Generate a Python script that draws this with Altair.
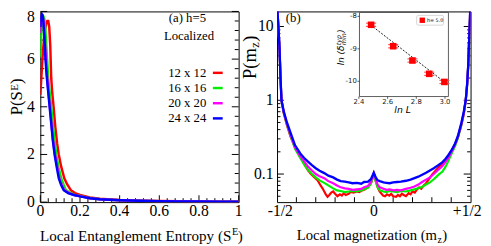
import altair as alt
import pandas as pd

# ---------------- panel (a): P(S^E), h = 5 ----------------
a_series = ["12 x 12", "16 x 16", "20 x 20", "24 x 24"]
a_colors = ["#ff0000", "#00ee00", "#ff00ff", "#0000ff"]

a12_x = [0, 0.005, 0.01, 0.015, 0.02, 0.025, 0.03, 0.035, 0.04, 0.045, 0.05, 0.055, 0.06, 0.067,
         0.075, 0.085, 0.093, 0.105, 0.121, 0.135, 0.154, 0.175, 0.2, 0.25, 0.3, 0.4, 0.5, 0.6,
         0.7, 0.8, 0.9, 1.0]
a12_y = [4.5, 5.2, 5.9, 6.5, 6.95, 7.3, 7.5, 7.6, 7.6, 7.35, 6.6, 5.2, 4.6, 4.0,
         3.2, 2.45, 2.0, 1.5, 1.0, 0.75, 0.5, 0.38, 0.3, 0.2, 0.14, 0.09, 0.06, 0.045,
         0.035, 0.028, 0.022, 0.018]

a16_x = [0, 0.004, 0.008, 0.012, 0.016, 0.02, 0.025, 0.03, 0.034, 0.04, 0.047, 0.055, 0.065,
         0.08, 0.092, 0.105, 0.118, 0.129, 0.15, 0.175, 0.2, 0.25, 0.3, 0.4, 0.5, 0.6, 0.7,
         0.8, 0.9, 1.0]
a16_y = [6.1, 6.9, 7.4, 7.7, 7.78, 7.7, 7.3, 6.6, 6.0, 5.2, 4.6, 4.0, 3.1,
         2.0, 1.45, 1.0, 0.72, 0.5, 0.4, 0.3, 0.26, 0.17, 0.12, 0.08, 0.055, 0.04, 0.032,
         0.025, 0.02, 0.016]

a20_x = [0, 0.004, 0.008, 0.012, 0.016, 0.02, 0.026, 0.032, 0.04, 0.048, 0.056, 0.064, 0.074,
         0.085, 0.096, 0.108, 0.121, 0.145, 0.17, 0.2, 0.25, 0.3, 0.4, 0.5, 0.6, 0.7, 0.8,
         0.9, 1.0]
a20_y = [7.1, 7.6, 7.82, 7.8, 7.6, 7.2, 6.3, 5.5, 4.7, 4.0, 3.3, 2.6, 2.0,
         1.5, 1.0, 0.72, 0.5, 0.38, 0.3, 0.25, 0.165, 0.12, 0.08, 0.055, 0.04, 0.031, 0.025,
         0.02, 0.016]

a24_x = [0, 0.004, 0.008, 0.012, 0.016, 0.02, 0.026, 0.032, 0.04, 0.047, 0.055, 0.063, 0.072,
         0.082, 0.093, 0.105, 0.118, 0.14, 0.17, 0.2, 0.25, 0.3, 0.4, 0.5, 0.6, 0.7, 0.8,
         0.9, 1.0]
a24_y = [7.35, 7.75, 7.88, 7.82, 7.5, 7.0, 6.0, 5.3, 4.6, 4.0, 3.3, 2.6, 2.0,
         1.5, 1.0, 0.72, 0.5, 0.38, 0.3, 0.24, 0.16, 0.12, 0.08, 0.055, 0.04, 0.03, 0.024,
         0.019, 0.015]

a_xticks = [0, 0.2, 0.4, 0.6, 0.8, 1]
a_xticklabels = ["0", "0.2", "0.4", "0.6", "0.8", "1"]
a_yticks = [0, 2, 4, 6]
a_yticklabels = ["0", "2", "4", "6"]
a_ytop = [8]
a_ytoplabel = ["8"]

# ---------------- panel (b): P(m_z) ----------------
b12_m = [-0.4995, -0.497, -0.493, -0.487, -0.482, -0.477, -0.465, -0.449, -0.43, -0.407,
         -0.39, -0.373, -0.355, -0.34, -0.325, -0.306, -0.29, -0.275, -0.265, -0.256,
         -0.248, -0.239, -0.23, -0.22, -0.21, -0.2, -0.188, -0.175, -0.165, -0.155,
         -0.145, -0.13, -0.12, -0.104, -0.09, -0.075, -0.06, -0.045, -0.036, -0.02,
         -0.01, 0, 0.01, 0.02, 0.03, 0.04, 0.048, 0.058, 0.068, 0.08,
         0.09, 0.1, 0.115, 0.125, 0.135, 0.145, 0.155, 0.166, 0.18, 0.19,
         0.2, 0.212, 0.223, 0.234, 0.245, 0.258, 0.27, 0.285, 0.301, 0.32,
         0.34, 0.368, 0.39, 0.41, 0.43, 0.45, 0.465, 0.475, 0.482, 0.488,
         0.493, 0.497, 0.4995]
b12_p = [25, 15, 10, 5, 2, 1, 0.66, 0.46, 0.32, 0.23,
         0.19, 0.16, 0.13, 0.112, 0.1, 0.09, 0.082, 0.07, 0.064, 0.058,
         0.053, 0.049, 0.052, 0.056, 0.058, 0.054, 0.05, 0.053, 0.051, 0.055,
         0.052, 0.054, 0.057, 0.056, 0.058, 0.057, 0.06, 0.062, 0.065, 0.072,
         0.08, 0.103, 0.08, 0.066, 0.058, 0.054, 0.051, 0.05, 0.053, 0.051,
         0.054, 0.05, 0.049, 0.052, 0.05, 0.054, 0.052, 0.05, 0.055, 0.053,
         0.058, 0.056, 0.062, 0.066, 0.063, 0.07, 0.075, 0.085, 0.098, 0.112,
         0.128, 0.152, 0.185, 0.225, 0.29, 0.43, 0.64, 1.0, 1.6, 3,
         7, 13, 25]

b_m = [-0.4995, -0.497, -0.493, -0.487, -0.482, -0.477, -0.465, -0.449, -0.43, -0.407,
       -0.38, -0.36, -0.34, -0.32, -0.30, -0.28, -0.256, -0.235, -0.21, -0.19, -0.171,
       -0.15, -0.13, -0.11, -0.087, -0.065, -0.05, -0.03, -0.015,
       0,
       0.01, 0.02, 0.031, 0.05, 0.065, 0.082, 0.1, 0.12, 0.14, 0.166,
       0.19, 0.21, 0.23, 0.25, 0.27, 0.29, 0.31, 0.335,
       0.355, 0.37, 0.385, 0.402, 0.42, 0.435, 0.453,
       0.465, 0.475, 0.482, 0.488, 0.493, 0.497, 0.4995]
b16_p = [25, 15, 10, 5, 2, 1, 0.67, 0.47, 0.33, 0.22,
         0.165, 0.135, 0.114, 0.1, 0.09, 0.082, 0.076, 0.07, 0.064, 0.06, 0.059,
         0.057, 0.058, 0.059, 0.058, 0.06, 0.062, 0.065, 0.074,
         0.1,
         0.08, 0.066, 0.06, 0.058, 0.057, 0.059, 0.058, 0.057, 0.059, 0.058,
         0.06, 0.062, 0.064, 0.067, 0.072, 0.077, 0.085, 0.098,
         0.108, 0.125, 0.15, 0.19, 0.24, 0.31, 0.47,
         0.67, 1.0, 1.6, 3, 7, 13, 25]
b20_p = [25, 15, 10, 5, 2, 1, 0.68, 0.48, 0.34, 0.23,
         0.175, 0.15, 0.126, 0.112, 0.1, 0.093, 0.088, 0.08, 0.075, 0.07, 0.066,
         0.064, 0.063, 0.061, 0.062, 0.063, 0.066, 0.069, 0.078,
         0.103,
         0.085, 0.072, 0.066, 0.063, 0.061, 0.062, 0.06, 0.061, 0.06, 0.063,
         0.065, 0.068, 0.072, 0.078, 0.084, 0.09, 0.1, 0.115,
         0.128, 0.145, 0.165, 0.2, 0.25, 0.32, 0.48,
         0.68, 1.0, 1.6, 3, 7, 13, 25]
b24_p = [25, 15, 10, 5, 2, 1, 0.7, 0.5, 0.36, 0.245,
         0.19, 0.165, 0.147, 0.132, 0.12, 0.111, 0.103, 0.095, 0.09, 0.084, 0.08,
         0.079, 0.077, 0.075, 0.076, 0.074, 0.078, 0.079, 0.085,
         0.104,
         0.09, 0.082, 0.08, 0.077, 0.076, 0.075, 0.077, 0.078, 0.079, 0.081,
         0.084, 0.088, 0.092, 0.098, 0.104, 0.112, 0.12, 0.133,
         0.145, 0.16, 0.18, 0.21, 0.26, 0.33, 0.5,
         0.7, 1.0, 1.6, 3, 7, 13, 25]

b_xtick_pos = [-0.483, 0, 0.483]
b_xticklabels = ["-1/2", "0", "+1/2"]
b_yticks = [0.1, 1, 10]
b_yticklabels = ["0.1", "1", "10"]

# ---------------- inset: ln(delta_min^typ) vs ln L ----------------
inset_lnL = [2.485, 2.639, 2.773, 2.890, 2.996]
inset_lnd = [-8.26, -8.92, -9.36, -9.77, -10.02]
inset_err = [0.05, 0.05, 0.05, 0.05, 0.05]
inset_fit_x = [2.48, 3.01]
inset_fit_y = [-8.26, -10.07]
inset_xticks = [2.4, 2.6, 2.8, 3.0]
inset_xticklabels = ["2.4", "2.6", "2.8", "3.0"]
inset_yticks = [-8, -9, -10]
inset_yticklabels = ["-8", "-9", "-10"]
inset_xlim = [2.404, 3.024]
inset_ylim = [-10.47, -7.88]

# ---------------- layout / style ----------------
SERIF = "Liberation Serif"
SANS = "DejaVu Sans"
W_A, W_B, H = 202.5, 197.6, 194.7
TICKFONT = 16

xs_a = alt.Scale(domain=[0, 1], nice=False, zero=False)
ys_a = alt.Scale(domain=[0, 8], nice=False, zero=False)
xs_b = alt.Scale(domain=[-0.5, 0.5], nice=False, zero=False)
ys_b = alt.Scale(type="log", domain=[0.0416, 16], nice=False)
xs_in = alt.Scale(domain=[1.8294, 3.1782], nice=False, zero=False)
ys_in = alt.Scale(domain=[-13.722, -7.849], nice=False, zero=False)


def curve(xv, yv, color, xs, ys, sw=2.3):
    df = pd.DataFrame({"x": xv, "y": yv})
    return alt.Chart(df).mark_line(color=color, strokeWidth=sw, clip=True).encode(
        x=alt.X("x:Q", scale=xs, axis=None), y=alt.Y("y:Q", scale=ys, axis=None))


def yticks(vals, ys, x0, x1, color="black", sw=1):
    return alt.Chart(pd.DataFrame({"y": vals})).mark_rule(color=color, strokeWidth=sw).encode(
        y=alt.Y("y:Q", scale=ys, axis=None), x=alt.value(x0), x2=alt.value(x1))


def xticks(vals, xs, y0, y1, color="black", sw=1):
    return alt.Chart(pd.DataFrame({"x": vals})).mark_rule(color=color, strokeWidth=sw).encode(
        x=alt.X("x:Q", scale=xs, axis=None), y=alt.value(y0), y2=alt.value(y1))


def xticklabels(vals, texts, xs, y, size=TICKFONT):
    return alt.Chart(pd.DataFrame({"v": vals, "t": texts})).mark_text(
        align="center", baseline="middle", font=SERIF, fontSize=size, color="black").encode(
        x=alt.X("v:Q", scale=xs, axis=None), y=alt.value(y), text="t:N")


def yticklabels(vals, texts, ys, x, baseline="middle", dy=0, size=TICKFONT):
    return alt.Chart(pd.DataFrame({"v": vals, "t": texts})).mark_text(
        align="right", baseline=baseline, dy=dy, font=SERIF, fontSize=size, color="black").encode(
        y=alt.Y("v:Q", scale=ys, axis=None), x=alt.value(x), text="t:N")


def label(text, x, y, size, align="left", baseline="middle", angle=0, font=SERIF,
          style="normal", color="black"):
    return alt.Chart(pd.DataFrame({"t": [text]})).mark_text(
        align=align, baseline=baseline, angle=angle, font=font, fontSize=size,
        fontStyle=style, color=color).encode(text="t:N", x=alt.value(x), y=alt.value(y))


# ---------- panel (a) ----------
a_xminor = [round(0.04 * i, 2) for i in range(1, 25) if i % 5]
a_ymajor = a_yticks + a_ytop
a_yminor = [round(0.4 * i, 1) for i in range(1, 20) if i % 5]

a_layers = [
    xticks(a_xticks, xs_a, H, H - 7), xticks(a_xminor, xs_a, H, H - 4),
    yticks(a_ymajor, ys_a, 0, 7), yticks(a_yminor, ys_a, 0, 4),
    yticks(a_ymajor, ys_a, W_A, W_A - 7), yticks(a_yminor, ys_a, W_A, W_A - 4),
    xticklabels(a_xticks, a_xticklabels, xs_a, H + 9),
    yticklabels(a_yticks, a_yticklabels, ys_a, -5.5),
    yticklabels(a_ytop, a_ytoplabel, ys_a, -5.5, baseline="top", dy=-2),
    curve(a12_x, a12_y, a_colors[0], xs_a, ys_a, sw=2.5),
    curve(a16_x, a16_y, a_colors[1], xs_a, ys_a, sw=2.5),
    curve(a20_x, a20_y, a_colors[2], xs_a, ys_a, sw=2.5),
    curve(a24_x, a24_y, a_colors[3], xs_a, ys_a, sw=2.5),
    label("(a) h=5", 131.2, 7, 13),
    label("Localized", 126.2, 25.3, 13),
]
for i, (name, col) in enumerate(zip(a_series, a_colors)):
    yy = 62.7 + i * 15.5
    a_layers.append(label(name, 169.5, yy, 13, align="right"))
    a_layers.append(alt.Chart(pd.DataFrame({"k": [name]})).mark_rule(color=col, strokeWidth=2.5)
                    .encode(x=alt.value(176.2), x2=alt.value(186.2), y=alt.value(yy)))
a_layers += [
    label("Local Entanglement Entropy (S", 195, 234.5, 15.4, align="right", baseline="alphabetic"),
    label("E", 195.8, 228.5, 10.5, baseline="alphabetic"),
    label(")", 201.5, 234.5, 15.4, baseline="alphabetic"),
    label("P(S", -18.3, 106, 17, angle=270, baseline="alphabetic"),
    label("E", -22.5, 81, 11, angle=270, baseline="alphabetic"),
    label(")", -18.3, 74, 17, angle=270, baseline="alphabetic"),
    # invisible anchor that fixes the left edge of the drawing
    alt.Chart(pd.DataFrame({"k": [0]})).mark_rule(opacity=0, strokeWidth=1)
    .encode(x=alt.value(-42), y=alt.value(0), y2=alt.value(1)),
]
left = alt.layer(*a_layers).properties(width=W_A, height=H)

# ---------- panel (b) ----------
b_xminor = [-0.4, -0.3, -0.2, -0.1, 0.1, 0.2, 0.3, 0.4]
b_xmajor = [0]
b_yminor = [0.05, 0.06, 0.07, 0.08, 0.09, 0.2, 0.3, 0.4, 0.5, 0.6, 0.7, 0.8, 0.9,
            2, 3, 4, 5, 6, 7, 8, 9]

b_layers = [
    xticks(b_xmajor, xs_b, H, H - 6), xticks(b_xminor, xs_b, H, H - 5),
    yticks(b_yticks, ys_b, 0, 7), yticks(b_yminor, ys_b, 0, 3.5),
    yticks(b_yticks, ys_b, W_B, W_B - 7), yticks(b_yminor, ys_b, W_B, W_B - 3.5),
    xticklabels(b_xtick_pos, b_xticklabels, xs_b, H + 9),
    yticklabels(b_yticks, b_yticklabels, ys_b, -3.5),
    curve(b12_m, b12_p, a_colors[0], xs_b, ys_b, sw=2.2),
    curve(b_m, b16_p, a_colors[1], xs_b, ys_b, sw=2.2),
    curve(b_m, b20_p, a_colors[2], xs_b, ys_b, sw=2.2),
    curve(b_m, b24_p, a_colors[3], xs_b, ys_b, sw=2.4),
    label("(b)", 9, 7, 13),
    label("Local magnetization (m", 163.3, 233, 15, align="right", baseline="alphabetic"),
    label("z", 163.8, 236, 10, baseline="alphabetic"),
    label(")", 168.8, 233, 15, baseline="alphabetic"),
    label("P(m", -21.7, 69, 19, angle=270, baseline="alphabetic"),
    label("z", -18.7, 37, 12.5, angle=270, baseline="alphabetic"),
    label(")", -21.7, 31, 19, angle=270, baseline="alphabetic"),
]
main_b = alt.layer(*b_layers)

# ---------- inset ----------
fr = pd.DataFrame({"x1": [inset_xlim[0]], "x2": [inset_xlim[1]],
                   "y1": [inset_ylim[1]], "y2": [inset_ylim[0]]})
frame = alt.Chart(fr).mark_rect(fill="white", stroke="#333333", strokeWidth=0.8).encode(
    x=alt.X("x1:Q", scale=xs_in, axis=None), x2="x2:Q",
    y=alt.Y("y1:Q", scale=ys_in, axis=None), y2="y2:Q")

iy = pd.DataFrame({"v": inset_yticks, "t": inset_yticklabels})
ix = pd.DataFrame({"v": inset_xticks, "t": inset_xticklabels})
ytk = alt.Chart(iy).mark_rule(color="#333333", strokeWidth=0.8).encode(
    y=alt.Y("v:Q", scale=ys_in, axis=None),
    x=alt.X(datum=inset_xlim[0], scale=xs_in, axis=None), x2=alt.X2(datum=2.39))
xtk = alt.Chart(ix).mark_rule(color="#333333", strokeWidth=0.8).encode(
    x=alt.X("v:Q", scale=xs_in, axis=None),
    y=alt.Y(datum=inset_ylim[0], scale=ys_in, axis=None), y2=alt.Y2(datum=-10.54))
ylab = alt.Chart(iy).mark_text(align="right", baseline="middle", font=SANS, fontSize=7,
                               color="#222222").encode(
    y=alt.Y("v:Q", scale=ys_in, axis=None),
    x=alt.X(datum=2.385, scale=xs_in, axis=None), text="t:N")
xlab = alt.Chart(ix).mark_text(align="center", baseline="middle", font=SANS, fontSize=7,
                               color="#222222").encode(
    x=alt.X("v:Q", scale=xs_in, axis=None),
    y=alt.Y(datum=-10.64, scale=ys_in, axis=None), text="t:N")

pts = pd.DataFrame({"x": inset_lnL, "y": inset_lnd, "e": inset_err})
pts["lo"] = pts["y"] - pts["e"]
pts["hi"] = pts["y"] + pts["e"]
pts["xl"] = pts["x"] - 0.035
pts["xr"] = pts["x"] + 0.035
fit = alt.Chart(pd.DataFrame({"x": inset_fit_x, "y": inset_fit_y})).mark_line(
    color="black", strokeWidth=0.9, strokeDash=[2, 1.5]).encode(
    x=alt.X("x:Q", scale=xs_in, axis=None), y=alt.Y("y:Q", scale=ys_in, axis=None))
ebar = alt.Chart(pts).mark_rule(color="#ff5555", strokeWidth=1.2).encode(
    x=alt.X("x:Q", scale=xs_in, axis=None),
    y=alt.Y("lo:Q", scale=ys_in, axis=None), y2="hi:Q")
cap_lo = alt.Chart(pts).mark_rule(color="#ff5555", strokeWidth=1.2).encode(
    x=alt.X("xl:Q", scale=xs_in, axis=None), x2="xr:Q",
    y=alt.Y("lo:Q", scale=ys_in, axis=None))
cap_hi = alt.Chart(pts).mark_rule(color="#ff5555", strokeWidth=1.2).encode(
    x=alt.X("xl:Q", scale=xs_in, axis=None), x2="xr:Q",
    y=alt.Y("hi:Q", scale=ys_in, axis=None))
sq = alt.Chart(pts).mark_square(size=45, color="#ff0000", opacity=1).encode(
    x=alt.X("x:Q", scale=xs_in, axis=None), y=alt.Y("y:Q", scale=ys_in, axis=None))
lnL_lab = alt.Chart(pd.DataFrame({"t": ["ln L"]})).mark_text(
    font=SANS, fontSize=9.5, fontStyle="italic", align="center", baseline="middle").encode(
    x=alt.X(datum=2.705, scale=xs_in, axis=None), y=alt.Y(datum=-10.875, scale=ys_in, axis=None),
    text="t:N")
leg_box = alt.Chart(pd.DataFrame({"k": [0]})).mark_rect(
    fill="white", stroke="#bbbbbb", strokeWidth=0.6, cornerRadius=1.5).encode(
    x=alt.value(142.6), x2=alt.value(170), y=alt.value(4), y2=alt.value(14))
leg_sq = alt.Chart(pd.DataFrame({"k": [0]})).mark_square(size=30, color="#ff0000", opacity=1).encode(
    x=alt.value(148.3), y=alt.value(9))

inset = alt.layer(
    frame, ytk, xtk, ylab, xlab, fit, ebar, cap_lo, cap_hi, sq, lnL_lab,
    leg_box, leg_sq,
    label("h= 5.0", 153, 9, 5, font=SANS),
    label("ln (δ", 68.5, 55, 9, angle=270, baseline="alphabetic", font=SANS, style="italic"),
    label("typ", 65, 34.5, 6.5, angle=270, baseline="alphabetic", font=SANS, style="italic"),
    label("min", 70.5, 34.5, 6.5, angle=270, baseline="alphabetic", font=SANS, style="italic"),
    label(")", 68.5, 21.7, 9, angle=270, baseline="alphabetic", font=SANS, style="italic"),
)

right = alt.layer(main_b, inset).resolve_scale(x="independent", y="independent").properties(
    width=W_B, height=H)

chart = alt.hconcat(left, right, spacing=38.7, bounds="flush").properties(
    padding={"left": -10, "top": -2, "right": 0, "bottom": 0}
).configure_view(stroke="black", strokeWidth=1)

chart.save("out.html", embed_options={"renderer": "svg", "actions": False})
